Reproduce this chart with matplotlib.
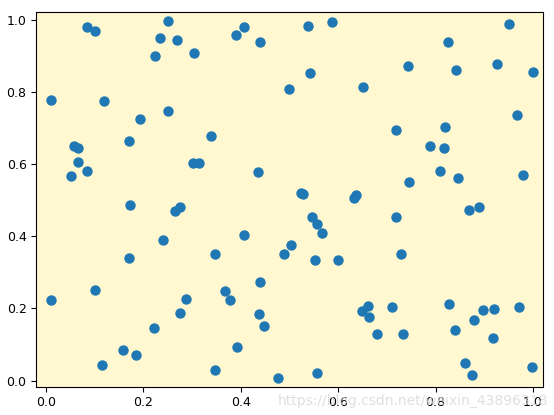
import matplotlib
matplotlib.use("Agg")
import matplotlib.pyplot as plt
import numpy as np

# point coordinates
x = [0.085, 0.101, 0.251, 0.235, 0.268, 0.224, 0.304, 0.390, 0.407, 0.440,
     0.499, 0.010, 0.119, 0.251, 0.193, 0.338, 0.171, 0.057, 0.066, 0.065,
     0.301, 0.314, 0.051, 0.085, 0.436,
     0.538, 0.588, 0.951, 0.825, 0.744, 0.841, 0.926, 1.000, 0.542, 0.650,
     0.968, 0.719, 0.819, 0.789, 0.817, 0.809, 0.847, 0.979, 0.746, 0.524,
     0.527, 0.636, 0.633,
     0.173, 0.264, 0.275, 0.240, 0.406, 0.347, 0.489, 0.503, 0.171, 0.101,
     0.010, 0.287, 0.368, 0.377, 0.440, 0.275, 0.437, 0.448, 0.222, 0.392,
     0.159, 0.184, 0.115, 0.347, 0.476,
     0.889, 0.868, 0.547, 0.719, 0.556, 0.566, 0.728, 0.552, 0.599, 0.649,
     0.662, 0.664, 0.710, 0.679, 0.734, 0.828, 0.839, 0.879, 0.897, 0.921,
     0.972, 0.917, 0.861, 0.875, 0.999, 0.556]
y = [0.980, 0.968, 0.997, 0.951, 0.943, 0.899, 0.907, 0.958, 0.981, 0.938,
     0.809, 0.779, 0.775, 0.746, 0.726, 0.678, 0.665, 0.651, 0.645, 0.607,
     0.602, 0.602, 0.566, 0.580, 0.578,
     0.982, 0.994, 0.989, 0.938, 0.872, 0.862, 0.879, 0.855, 0.852, 0.813,
     0.736, 0.696, 0.703, 0.650, 0.645, 0.581, 0.562, 0.569, 0.550, 0.521,
     0.518, 0.514, 0.506,
     0.487, 0.471, 0.482, 0.389, 0.404, 0.352, 0.350, 0.377, 0.340, 0.250,
     0.223, 0.227, 0.247, 0.223, 0.272, 0.187, 0.184, 0.152, 0.145, 0.092,
     0.084, 0.072, 0.042, 0.028, 0.007,
     0.482, 0.472, 0.453, 0.453, 0.434, 0.409, 0.350, 0.334, 0.334, 0.194,
     0.207, 0.177, 0.204, 0.129, 0.129, 0.212, 0.141, 0.167, 0.197, 0.199,
     0.204, 0.118, 0.050, 0.016, 0.038, 0.021]

fig = plt.figure(figsize=(5.54, 4.15), dpi=100)
ax = fig.add_axes([0.0655, 0.0682, 0.9141, 0.9022])
ax.set_facecolor('#fff8d0')
ax.scatter(x, y, s=42, color='#1f77b4')
ax.set_xlim(-0.02, 1.02)
ax.set_ylim(-0.017, 1.021)
ax.set_xticks(np.arange(0, 1.01, 0.2))
ax.set_yticks(np.arange(0, 1.01, 0.2))
ax.tick_params(labelsize=9)

fig.text(0.99, 0.035, 'https://blog.csdn.net/weixin_43896318', ha='right', va='center',
         fontsize=10, color='#d8d8d8', alpha=0.8)
fig.savefig('out.png', dpi=100)
